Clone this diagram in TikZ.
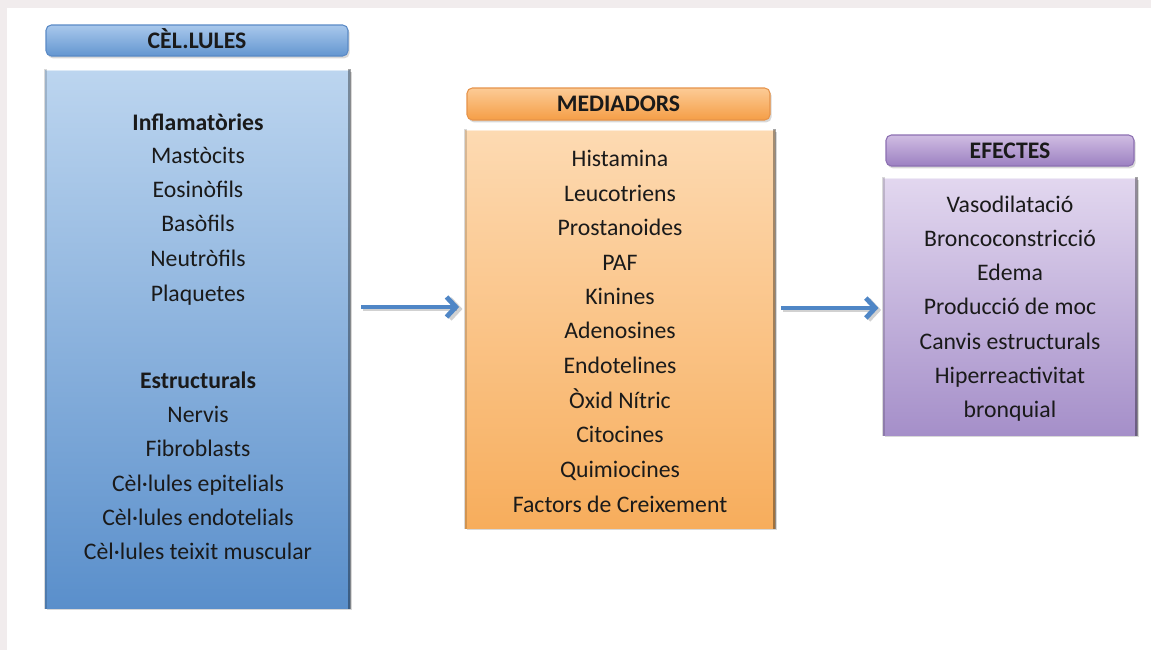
\documentclass[tikz,border=0pt]{standalone}
\usepackage{fontspec}
\setmainfont{Carlito}
\usetikzlibrary{fit,shadows,arrows.meta}
\definecolor{txtc}{HTML}{1A1A1A}
\definecolor{bgband}{HTML}{F1ECED}
\definecolor{bhTop}{HTML}{A9C8EC}\definecolor{bhBot}{HTML}{6396D0}\definecolor{bhLine}{HTML}{5A8AC6}
\definecolor{bbTop}{HTML}{BCD5EF}\definecolor{bbBot}{HTML}{5A8FCB}
\definecolor{ohTop}{HTML}{FCCB96}\definecolor{ohBot}{HTML}{F59E46}\definecolor{ohLine}{HTML}{E6934A}
\definecolor{obTop}{HTML}{FDDAB2}\definecolor{obBot}{HTML}{F7AD5C}
\definecolor{phTop}{HTML}{D0BDE2}\definecolor{phBot}{HTML}{9C80C2}\definecolor{phLine}{HTML}{8C70B2}
\definecolor{pbTop}{HTML}{E2D7EF}\definecolor{pbBot}{HTML}{A58FC9}
\definecolor{arrc}{HTML}{4F86C6}
\tikzset{
  boxbase/.style={inner sep=0pt, line width=0.8pt,
    drop shadow={opacity=0.3, shadow xshift=1.2pt, shadow yshift=-1.8pt}},
  hdr/.style={boxbase, rounded corners=4pt},
  bluehdr/.style={hdr, top color=bhTop, bottom color=bhBot, draw=bhLine},
  bluebody/.style={boxbase, top color=bbTop, bottom color=bbBot},
  orghdr/.style={hdr, top color=ohTop, bottom color=ohBot, draw=ohLine},
  orgbody/.style={boxbase, top color=obTop, bottom color=obBot},
  purhdr/.style={hdr, top color=phTop, bottom color=phBot, draw=phLine},
  purbody/.style={boxbase, top color=pbTop, bottom color=pbBot},
  ledge/.style={draw=black, draw opacity=0.15, line width=1.6pt},
  redge/.style={draw=black, draw opacity=0.35, line width=1.8pt},
  tedge/.style={draw=white, draw opacity=0.5, line width=1.2pt},
  txt/.style={inner sep=0pt, text height=11.4pt, text depth=0pt, text=txtc, font=\fontsize{17.8}{21}\selectfont},
  htxt/.style={txt, font=\fontsize{17.8}{21}\selectfont\bfseries},
  arr/.style={draw=arrc, line width=3.6pt, -{Straight Barb[length=7pt,width=15pt]}},
  arrsh/.style={draw=black, draw opacity=0.18, line width=3.6pt, -{Straight Barb[length=7pt,width=15pt]}}
}
\begin{document}
\begin{tikzpicture}[x=0.75pt,y=-0.75pt]
\useasboundingbox (0,0) rectangle (1151,650);
\fill[white] (0,0) rectangle (1151,650);
\fill[bgband] (0,0) rectangle (1151,8);
\fill[bgband] (0,0) rectangle (7,650);
% boxes
\coordinate (ch1) at (46,25); \coordinate (ch2) at (348,56);
\coordinate (cb1) at (45,70); \coordinate (cb2) at (350,608);
\coordinate (mh1) at (467,88); \coordinate (mh2) at (770,120);
\coordinate (mb1) at (465,130); \coordinate (mb2) at (775,528);
\coordinate (eh1) at (886,135); \coordinate (eh2) at (1134,166);
\coordinate (eb1) at (883,178); \coordinate (eb2) at (1137,435);
\node[fit=(ch1)(ch2), bluehdr] (cellhdr) {};
\node[fit=(cb1)(cb2), bluebody] (cells) {};
\node[fit=(mh1)(mh2), orghdr] (medhdr) {};
\node[fit=(mb1)(mb2), orgbody] (med) {};
\node[fit=(eh1)(eh2), purhdr] (effhdr) {};
\node[fit=(eb1)(eb2), purbody] (eff) {};
% bevel edges of the bodies
\foreach \b in {cells,med,eff}{
  \draw[tedge] ([xshift=1.5pt,yshift=-0.6pt]\b.north west) -- ([xshift=-1.5pt,yshift=-0.6pt]\b.north east);
  \draw[ledge] ([xshift=0.8pt]\b.north west) -- ([xshift=0.8pt]\b.south west);
  \draw[redge] ([xshift=-0.9pt]\b.north east) -- ([xshift=-0.9pt]\b.south east);
}
% headers
\node[htxt] (tcell) at (cellhdr.center) {CÈL.LULES};
\node[htxt] (tmed) at (medhdr.center) {MEDIADORS};
\node[htxt] (teff) at (effhdr.center) {EFECTES};
% cells text
\foreach \t/\y [count=\i] in {{\textbf{Inflamatòries}}/123, Mastòcits/156, Eosinòfils/190, Basòfils/224, Neutròfils/259, Plaquetes/294,
  {\textbf{Estructurals}}/381, Nervis/415, Fibroblasts/449, Cèl·lules epitelials/484, Cèl·lules endotelials/518, Cèl·lules teixit muscular/552}
  {\node[txt] (c\i) at (198,\y) {\t};}
% mediators text
\foreach \t/\y [count=\i] in {Histamina/159, Leucotriens/194, Prostanoides/228, PAF/263, Kinines/297, Adenosines/331,
  Endotelines/366, Òxid Nítric/401, Citocines/435, Quimiocines/470, Factors de Creixement/505}
  {\node[txt] (m\i) at (620,\y) {\t};}
% effects text
\foreach \t/\y [count=\i] in {Vasodilatació/205, Broncoconstricció/239, Edema/273, Producció de moc/307,
  Canvis estructurals/342, Hiperreactivitat/376, bronquial/410}
  {\node[txt] (e\i) at (1010,\y) {\t};}
% arrows
\coordinate (y1) at (0,307);
\coordinate (y2) at (0,308);
\coordinate (y1s) at (0,309);
\coordinate (y2s) at (0,310);
\draw[arrsh, shorten <=8.5pt, shorten >=2.5pt] ([xshift=1pt]cells.east |- y1s) -- ([xshift=1pt]med.west |- y1s);
\draw[arrsh, shorten <=4.5pt, shorten >=2pt] ([xshift=1pt]med.east |- y2s) -- ([xshift=1pt]eff.west |- y2s);
\draw[arr, shorten <=8pt, shorten >=4pt] (cells.east |- y1) -- (med.west |- y1);
\draw[arr, shorten <=4pt, shorten >=3pt] (med.east |- y2) -- (eff.west |- y2);
\end{tikzpicture}
\end{document}
